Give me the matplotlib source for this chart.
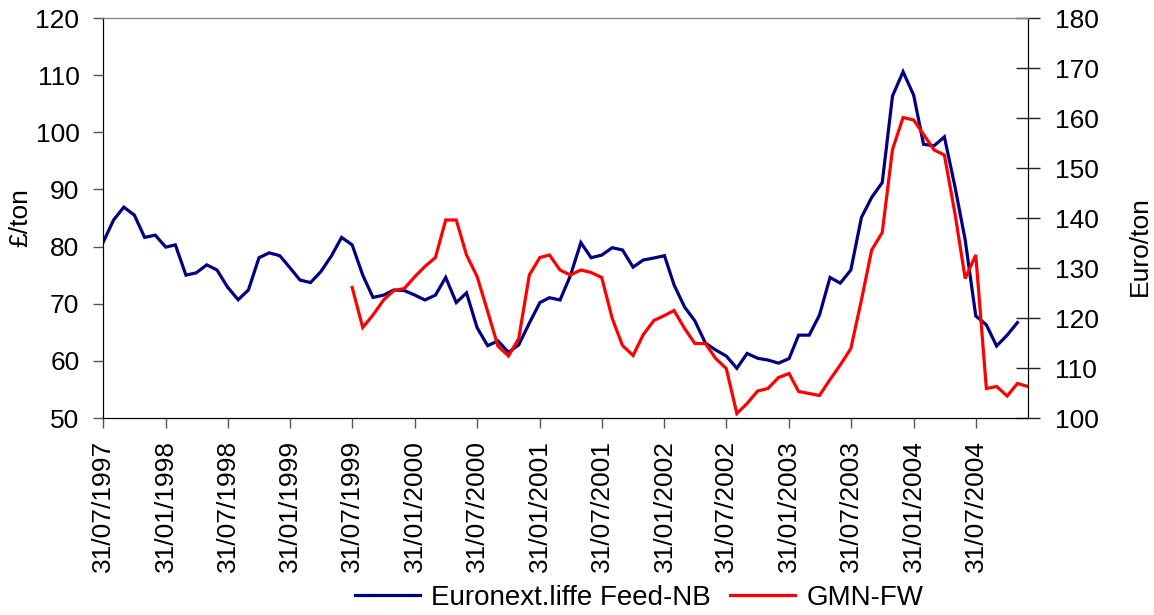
import matplotlib
matplotlib.use("Agg")
import matplotlib.pyplot as plt
import pandas as pd
from matplotlib.lines import Line2D

plt.rcParams['font.family'] = ['Liberation Sans', 'DejaVu Sans']

# ---- data (monthly, month-end) ----
blue_start = "1997-07-31"
blue_values = [80.7, 84.65, 86.9, 85.5, 81.6, 82.0, 79.9, 80.3, 75.0, 75.4,
               76.8, 75.9, 72.9, 70.7, 72.4, 78.05, 78.9, 78.4, 76.2, 74.15,
               73.7, 75.6, 78.35, 81.6, 80.3, 75.0, 71.1, 71.5, 72.4, 72.3,
               71.5, 70.65, 71.5, 74.6, 70.2, 71.9, 65.8, 62.65, 63.5, 61.5,
               62.8, 66.6, 70.2, 71.05, 70.65, 74.85, 80.7, 78.05, 78.5, 79.8,
               79.4, 76.4, 77.65, 78.0, 78.4, 73.3, 69.4, 67.0, 63.1, 61.9,
               60.85, 58.7, 61.3, 60.45, 60.15, 59.6, 60.4, 64.5, 64.5, 68.0,
               74.6, 73.6, 75.9, 85.1, 88.6, 91.2, 106.35, 110.6, 106.5, 97.9,
               97.65, 99.2, 90.5, 81.15, 67.85, 66.3, 62.6, 64.5, 66.7]

red_start = "1999-07-31"
red_values = [126.1, 118.1, 120.6, 123.6, 125.5, 125.9, 128.3, 130.3, 132.1, 139.6,
              139.6, 132.6, 128.3, 121.3, 114.4, 112.4, 115.9, 128.6, 132.1, 132.6,
              129.6, 128.6, 129.6, 129.1, 128.1, 119.9, 114.5, 112.5, 116.7, 119.5,
              120.5, 121.5, 117.9, 114.9, 114.9, 111.9, 109.9, 100.9, 102.9, 105.4,
              105.9, 108.1, 108.9, 105.3, 104.9, 104.5, 107.7, 110.6, 113.9, 123.6,
              133.6, 137.1, 153.7, 160.1, 159.6, 156.7, 153.6, 152.6, 140.9, 127.9,
              132.6, 105.9, 106.3, 104.4, 106.9, 106.3]

tick_labels = ["31/07/1997", "31/01/1998", "31/07/1998", "31/01/1999", "31/07/1999",
               "31/01/2000", "31/07/2000", "31/01/2001", "31/07/2001", "31/01/2002",
               "31/07/2002", "31/01/2003", "31/07/2003", "31/01/2004", "31/07/2004"]

series_names = ["Euronext.liffe Feed-NB", "GMN-FW"]

blue_dates = pd.date_range(blue_start, periods=len(blue_values), freq="ME")
red_dates = pd.date_range(red_start, periods=len(red_values), freq="ME")
tick_dates = pd.to_datetime(tick_labels, format="%d/%m/%Y")

BLUE = "#000080"
RED = "#FF0000"
FS = 19

fig = plt.figure(figsize=(11.54, 6.15), dpi=100)
ax = fig.add_axes([103/1154, 1 - 418/615, (1028 - 103)/1154, 400/615])
ax2 = ax.twinx()

ax.plot(blue_dates, blue_values, color=BLUE, lw=2.3, solid_joinstyle='miter')
ax2.plot(red_dates, red_values, color=RED, lw=2.3, solid_joinstyle='miter')

ax.set_xlim(blue_dates[0], red_dates[-1])
ax.set_ylim(50, 120)
ax2.set_ylim(100, 180)
ax.set_yticks(range(50, 121, 10))
ax2.set_yticks(range(100, 181, 10))
ax.set_xticks(tick_dates)
ax.set_xticklabels(tick_labels, rotation=90, fontsize=FS)

ax.tick_params(axis='y', direction='out', length=7, width=1, color='#555555',
               labelsize=FS, pad=10)
ax.tick_params(axis='x', direction='out', length=7, width=1, color='#555555',
               pad=9)
ax2.tick_params(axis='y', direction='inout', length=17, width=1, color='#222222',
                labelsize=FS, pad=11)

for a in (ax, ax2):
    a.spines['top'].set_color('#808080')
    a.spines['left'].set_color('#000000')
    a.spines['right'].set_color('#000000')
    a.spines['bottom'].set_color('#000000')

fig.text(20/1154, 1 - 218/615, "£/ton", rotation=90, fontsize=FS,
         ha='center', va='center')
fig.text(1140/1154, 1 - 246/615, "Euro/ton", rotation=90, fontsize=FS,
         ha='center', va='center')

handles = [Line2D([0], [0], color=BLUE, lw=2.3), Line2D([0], [0], color=RED, lw=2.3)]
fig.legend(handles, series_names, loc='center', bbox_to_anchor=(639/1154, 1 - 598/615),
           ncol=2, frameon=False, fontsize=20, handlelength=2.35, handletextpad=0.4,
           columnspacing=0.7, borderaxespad=0)

fig.savefig("out.png", dpi=100)
